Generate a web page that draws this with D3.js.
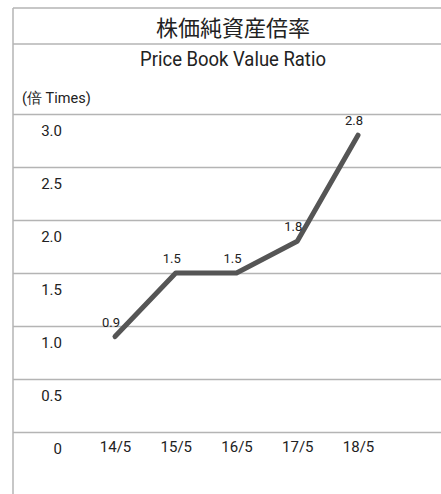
<!DOCTYPE html>
<html>
<head>
<meta charset="utf-8">
<script src="https://cdn.jsdelivr.net/npm/d3@7"></script>
<style>
  body { margin: 0; background: #fff; }
  svg text { font-family: "Roboto", "Liberation Sans", sans-serif; fill: #222; }
</style>
</head>
<body>
<svg id="chart"></svg>
<script>
// data
const years = ["14/5", "15/5", "16/5", "17/5", "18/5"];
const pbr = [0.9, 1.5, 1.5, 1.8, 2.8];
const yTicks = [0, 0.5, 1.0, 1.5, 2.0, 2.5, 3.0];
const titleJa = "株価純資産倍率";
const titleEn = "Price Book Value Ratio";
const unitLabel = "(倍 Times)";

const W = 441, H = 494;
const left = 13;
const gridColor = "#b4b4b4";

const svg = d3.select("#chart").attr("width", W).attr("height", H);

const x = d3.scalePoint().domain(years).range([115, 358]);
const y = d3.scaleLinear().domain([0, 3]).range([432, 114]);

// frame
svg.append("line").attr("x1", left).attr("x2", left).attr("y1", 8).attr("y2", H)
  .attr("stroke", gridColor).attr("stroke-width", 1.5);
svg.append("line").attr("x1", left).attr("x2", W).attr("y1", 8).attr("y2", 8)
  .attr("stroke", gridColor).attr("stroke-width", 1.5);
svg.append("line").attr("x1", left).attr("x2", W).attr("y1", 44).attr("y2", 44)
  .attr("stroke", gridColor).attr("stroke-width", 1.5);

svg.append("text").attr("x", 233).attr("y", 35.5).attr("text-anchor", "middle")
  .style("font-family", '"Noto Sans CJK JP", sans-serif').style("font-size", "22px")
  .text(titleJa);
// condensed look for the subtitle
svg.append("g").attr("transform", "translate(233,66) scale(0.88,1)")
  .append("text").attr("text-anchor", "middle")
  .style("font-size", "21px")
  .text(titleEn);
svg.append("text").attr("x", 22).attr("y", 103)
  .style("font-size", "14.5px")
  .text(unitLabel);

// y grid + labels
const yAxis = d3.axisLeft(y).tickValues(yTicks).tickSize(-(W - left))
  .tickFormat(d => d === 0 ? "0" : d3.format(".1f")(d));
const gy = svg.append("g").attr("transform", `translate(${left},0)`).call(yAxis);
gy.select(".domain").remove();
gy.selectAll(".tick line").attr("stroke", gridColor).attr("stroke-width", 1.5);
gy.selectAll(".tick text").attr("x", 49).attr("dy", 21)
  .attr("text-anchor", "end").style("font-size", "15px");

// x labels
const gx = svg.append("g").attr("transform", "translate(0,432)")
  .call(d3.axisBottom(x).tickSize(0));
gx.select(".domain").remove();
gx.selectAll(".tick text").style("font-size", "15px").attr("y", 0).attr("dy", 20);

// line
const line = d3.line().x((d, i) => x(years[i])).y(d => y(d));
svg.append("path").datum(pbr)
  .attr("fill", "none").attr("stroke", "#555").attr("stroke-width", 5)
  .attr("stroke-linejoin", "round").attr("stroke-linecap", "round")
  .attr("d", line);

// value labels
svg.selectAll(".val").data(pbr).enter().append("text")
  .attr("class", "val")
  .attr("x", (d, i) => x(years[i]) - 4)
  .attr("y", d => y(d) - 10)
  .attr("text-anchor", "middle")
  .style("font-size", "13px")
  .text(d => d3.format(".1f")(d));
</script>
</body>
</html>
